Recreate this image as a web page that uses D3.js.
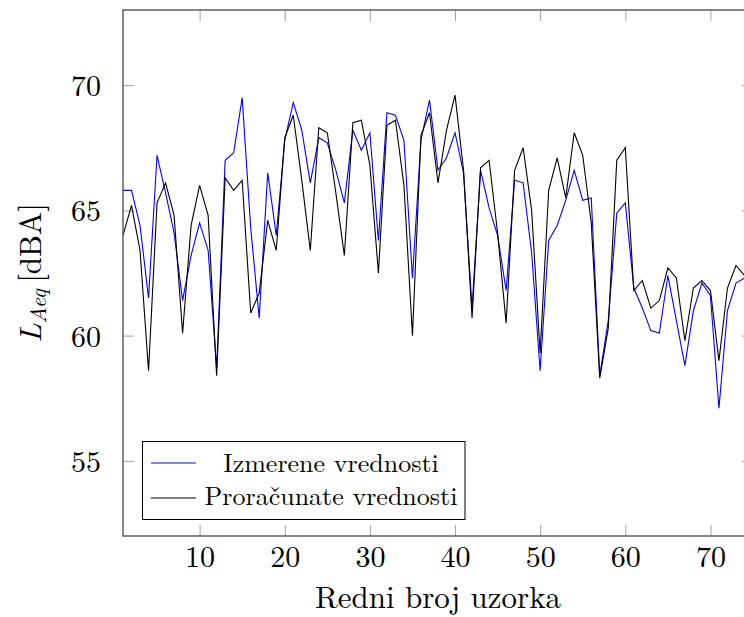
<!DOCTYPE html>
<html>
<head>
<meta charset="utf-8">
<script src="https://cdn.jsdelivr.net/npm/d3@7"></script>
<style>
  body { margin: 0; background: #fff; }
</style>
</head>
<body>
<div id="chart"></div>
<script>
// Izmerene vrednosti (blue)
const measured = [
  65.8, 65.8, 64.4, 61.5, 67.2, 65.7, 64.1, 61.4, 63.2, 64.5,
  63.4, 58.7, 67.0, 67.3, 69.5, 64.3, 60.7, 66.5, 64.0, 67.8,
  69.3, 68.2, 66.1, 67.9, 67.7, 66.6, 65.3, 68.2, 67.4, 68.1,
  63.8, 68.9, 68.8, 67.8, 62.3, 67.8, 69.4, 66.6, 67.1, 68.1,
  66.5, 61.1, 66.6, 65.1, 64.0, 61.8, 66.2, 66.1, 63.3, 58.6,
  63.8, 64.4, 65.4, 66.6, 65.4, 65.5, 58.4, 60.6, 64.9, 65.3,
  61.9, 61.1, 60.2, 60.1, 62.4, 60.6, 58.8, 61.0, 62.1, 61.6,
  57.1, 61.0, 62.1, 62.3, 62.4
];
// Proračunate vrednosti (black)
const computed = [
  64.0, 65.2, 63.4, 58.6, 65.3, 66.1, 64.8, 60.1, 64.4, 66.0,
  64.8, 58.4, 66.3, 65.8, 66.2, 60.9, 61.7, 64.6, 63.4, 67.9,
  68.8, 66.2, 63.4, 68.3, 68.1, 65.7, 63.2, 68.5, 68.6, 66.8,
  62.5, 68.4, 68.6, 66.0, 60.0, 68.0, 68.9, 66.1, 68.2, 69.6,
  66.6, 60.7, 66.7, 67.0, 64.1, 60.5, 66.6, 67.5, 65.0, 59.3,
  65.8, 67.1, 65.5, 68.1, 67.2, 64.5, 58.3, 60.3, 67.0, 67.5,
  61.8, 62.2, 61.1, 61.4, 62.7, 62.3, 59.8, 61.9, 62.2, 61.8,
  59.0, 61.9, 62.8, 62.4, 62.0
];
const xTicks = [10, 20, 30, 40, 50, 60, 70];
const yTicks = [55, 60, 65, 70];
const seriesNames = ["Izmerene vrednosti", "Proračunate vrednosti"];
const seriesColors = ["#0000ff", "#000000"];

const lm = "\"Latin Modern Roman\", \"Liberation Serif\", serif";
const width = 744, height = 617;
const margin = { top: 10, left: 123, right: 753, bottom: 536 };

const svg = d3.select("#chart").append("svg")
  .attr("width", width).attr("height", height);

const x = d3.scaleLinear().domain([1, 75]).range([margin.left, margin.right]);
const y = d3.scaleLinear().domain([52, 73]).range([margin.bottom, margin.top]);

svg.append("clipPath").attr("id", "clip")
  .append("rect")
  .attr("x", margin.left).attr("y", margin.top)
  .attr("width", margin.right - margin.left).attr("height", margin.bottom - margin.top);

// ticks, inward on all four sides
const tickLen = 11;
const tickColor = "#a0a0a0";
const bottomAx = svg.append("g")
  .attr("transform", `translate(0,${margin.bottom})`)
  .call(d3.axisBottom(x).tickValues(xTicks).tickSize(-tickLen).tickPadding(tickLen + 20).tickFormat(d3.format("d")));
const topAx = svg.append("g")
  .attr("transform", `translate(0,${margin.top})`)
  .call(d3.axisTop(x).tickValues(xTicks).tickSize(-tickLen).tickFormat(""));
const leftAx = svg.append("g")
  .attr("transform", `translate(${margin.left},0)`)
  .call(d3.axisLeft(y).tickValues(yTicks).tickSize(-tickLen).tickPadding(tickLen + 11).tickFormat(d3.format("d")));
const rightAx = svg.append("g")
  .attr("transform", `translate(${margin.right},0)`)
  .call(d3.axisRight(y).tickValues(yTicks).tickSize(-tickLen).tickFormat(""));

[bottomAx, topAx, leftAx, rightAx].forEach(g => {
  g.select(".domain").remove();
  g.selectAll(".tick line").attr("stroke", tickColor).attr("stroke-width", 1);
  g.selectAll(".tick text")
    .attr("fill", "#000")
    .style("font-family", lm)
    .style("font-size", "30px");
});
bottomAx.selectAll(".tick text").attr("dy", null).attr("y", 31);
leftAx.selectAll(".tick text").attr("dy", "0.35em");

// series lines
const line = d3.line()
  .x((d, i) => x(i + 1))
  .y(d => y(d));

const plot = svg.append("g").attr("clip-path", "url(#clip)");
[measured, computed].forEach((s, k) => {
  plot.append("path")
    .datum(s)
    .attr("fill", "none")
    .attr("stroke", seriesColors[k])
    .attr("stroke-width", 1.1)
    .attr("d", line);
});

// frame
svg.append("rect")
  .attr("x", margin.left).attr("y", margin.top)
  .attr("width", margin.right - margin.left).attr("height", margin.bottom - margin.top)
  .attr("fill", "none")
  .attr("stroke", "#555")
  .attr("stroke-width", 1.4);

// axis titles
svg.append("text")
  .attr("x", (margin.left + margin.right) / 2)
  .attr("y", 608)
  .attr("text-anchor", "middle")
  .style("font-family", lm)
  .style("font-size", "31px")
  .text("Redni broj uzorka");

const yTitle = svg.append("text")
  .attr("transform", `translate(41,${(margin.top + margin.bottom) / 2}) rotate(-90)`)
  .attr("text-anchor", "middle")
  .style("font-family", lm)
  .style("font-size", "31px");
yTitle.append("tspan").style("font-style", "italic").text("L");
yTitle.append("tspan").style("font-style", "italic").style("font-size", "22px").attr("dy", 5).text("Aeq");
yTitle.append("tspan").attr("dy", -5).text("\u2009[dBA]");

// legend
const legend = svg.append("g");
legend.append("rect")
  .attr("x", 142.5).attr("y", 441.5)
  .attr("width", 322.5).attr("height", 78)
  .attr("fill", "#fff")
  .attr("stroke", "#000")
  .attr("stroke-width", 1);

const legendRows = [
  { name: seriesNames[0], color: seriesColors[0], y: 463, base: 471.5 },
  { name: seriesNames[1], color: seriesColors[1], y: 498, base: 505 }
];
legendRows.forEach(r => {
  legend.append("line")
    .attr("x1", 151).attr("x2", 196)
    .attr("y1", r.y).attr("y2", r.y)
    .attr("stroke", r.color)
    .attr("stroke-width", 1.2);
  legend.append("text")
    .attr("x", 331).attr("y", r.base)
    .attr("text-anchor", "middle")
    .style("font-family", lm)
    .style("font-size", "26px")
    .text(r.name);
});
</script>
</body>
</html>
